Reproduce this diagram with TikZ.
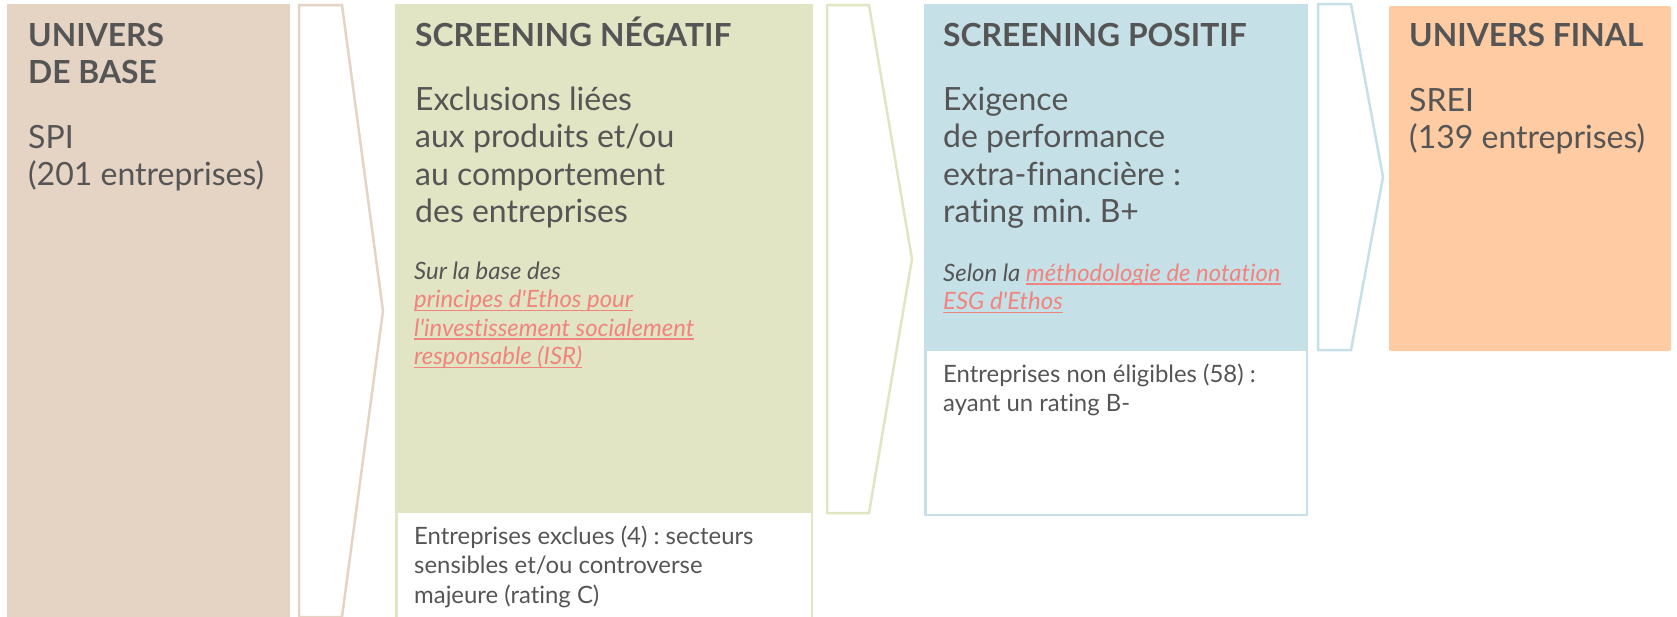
\documentclass[tikz,border=0pt]{standalone}
\usepackage{fontspec}
\setmainfont{Lato}[Ligatures={TeXOff,CommonOff}]
\definecolor{brownf}{HTML}{E5D3C4}
\definecolor{greenf}{HTML}{E1E5C3}
\definecolor{bluef}{HTML}{C5E1E7}
\definecolor{orangef}{HTML}{FECBA3}
\definecolor{txt}{HTML}{555555}
\definecolor{linkc}{HTML}{F0847E}
\frenchspacing
\newcommand\ml[1]{\begin{tabular}[t]{@{}l@{}}#1\end{tabular}}
\newcommand\lnk[1]{{\color{linkc}\setbox0\hbox{#1}\rlap{\rule[-3.8pt]{\wd0}{1.4pt}}\box0}}
\tikzset{
  head/.style={anchor=base west, inner sep=0pt, text=txt, font=\fontsize{31.8}{37}\selectfont\bfseries},
  body/.style={anchor=base west, inner sep=0pt, text=txt, font=\fontsize{32}{37.5}\selectfont},
  small/.style={anchor=base west, inner sep=0pt, text=txt, font=\fontsize{23.9}{29.5}\selectfont},
  note/.style={anchor=base west, inner sep=0pt, text=txt, font=\fontsize{23.9}{28.5}\selectfont\itshape},
  chev/.style={line width=2.5pt, line join=miter, fill=white},
}
\begin{document}
\begin{tikzpicture}[x=1pt,y=-1pt]
\useasboundingbox (0,0) rectangle (1677,616);
% boxes
\fill[brownf] (7,4) rectangle (290,630);
\fill[greenf] (395,4) rectangle (813,630);
\fill[white] (397.5,513) rectangle (810.5,630);
\fill[bluef] (924,4) rectangle (1308,516);
\fill[white] (926.5,351) rectangle (1305.5,513.5);
\fill[orangef, rounded corners=2pt] (1389,6) rectangle (1671,351);
% chevrons
\draw[chev, draw=brownf] (299,5) -- (342,5) -- (383,311) -- (342,617) -- (299,617) -- cycle;
\draw[chev, draw=greenf] (827,5) -- (869,5) -- (912,259) -- (869,513) -- (827,513) -- cycle;
\draw[chev, draw=bluef] (1318,4) -- (1351,4) -- (1383,177) -- (1351,350) -- (1318,350) -- cycle;
% texts: univers de base
\node[head] (bh) at (28,46) {\ml{UNIVERS\\DE BASE}};
\node[body] (bb) at (28,148) {\ml{SPI\\(201 entreprises)}};
% screening negatif
\node[head] (gh) at (415,46) {SCREENING NÉGATIF};
\node[body] (gb) at (415,110) {\ml{Exclusions liées\\aux produits et/ou\\au comportement\\des entreprises}};
\node[note] (gn) at (414,279) {\ml{Sur la base des\\\lnk{principes d'Ethos pour}\\\lnk{l'investissement socialement}\\\lnk{responsable (ISR)}}};
\node[small] (gs) at (414,544) {\ml{Entreprises exclues (4) : secteurs\\sensibles et/ou controverse\\majeure (rating C)}};
% screening positif
\node[head] (ph) at (943,46) {SCREENING POSITIF};
\node[body] (pb) at (943,110) {\ml{Exigence\\de performance\\extra-financière :\\rating min. B+}};
\node[note] (pn) at (943,281) {\ml{Selon la \lnk{méthodologie de notation}\\\lnk{ESG d'Ethos}}};
\node[small] (ps) at (943,382) {\ml{Entreprises non éligibles (58) :\\ayant un rating B-}};
% univers final
\node[head] (fh) at (1409,46) {UNIVERS FINAL};
\node[body] (fb) at (1409,111) {\ml{SREI\\(139 entreprises)}};
\end{tikzpicture}
\end{document}
